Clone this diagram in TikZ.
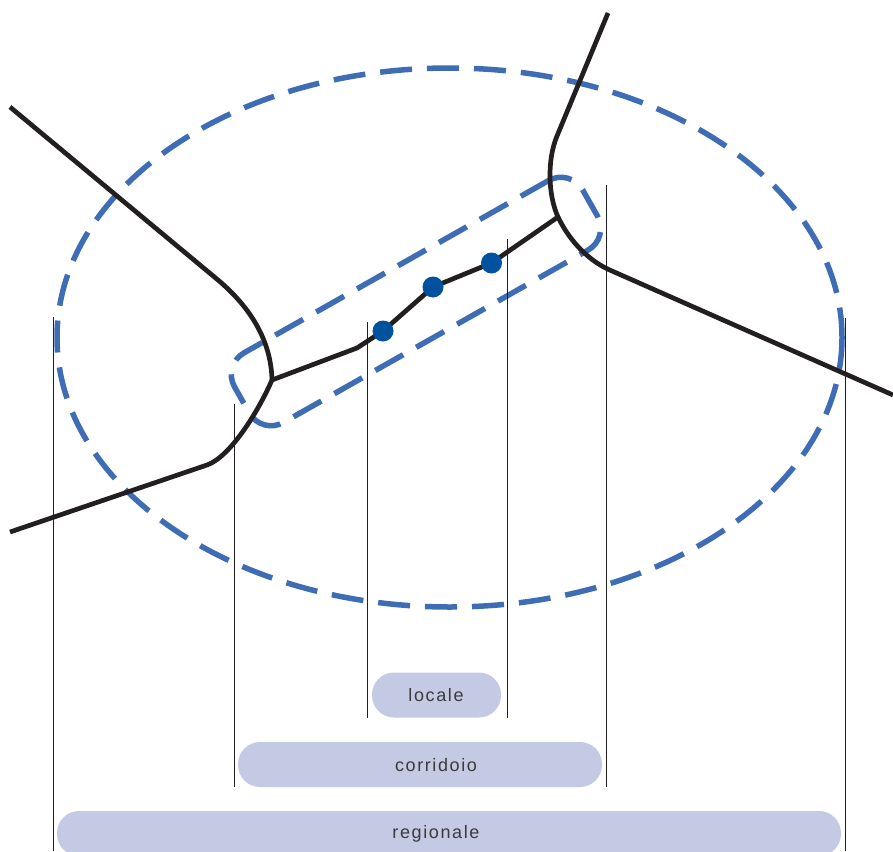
\documentclass[tikz,border=0pt]{standalone}
\usepackage{fontspec}
\setsansfont{Liberation Sans}
\newfontfamily\labelfont[LetterSpace=9]{Liberation Sans}
\usetikzlibrary{positioning}

\definecolor{roadblack}{HTML}{231F20}
\definecolor{zoneblue}{HTML}{3F6DB5}
\definecolor{stopblue}{HTML}{00519E}
\definecolor{pillfill}{HTML}{C5CAE4}
\definecolor{labelgray}{HTML}{3A3A3C}

\tikzset{
  road/.style={line width=4.7pt, draw=roadblack, line join=round},
  zone/.style={line width=5.5pt, draw=zoneblue, dash pattern=on 32pt off 15pt},
  stop/.style={circle, fill=stopblue, inner sep=0pt, minimum size=21pt},
  extent/.style={line width=0.9pt, draw=roadblack},
  pill/.style={rectangle, rounded corners=22pt, fill=pillfill, minimum height=45pt, inner sep=0pt},
  pilltext/.style={inner sep=0pt, font=\labelfont\fontsize{18}{20}\selectfont, text=labelgray}
}

\def\wTot{893}
\def\hTot{851}
\def\xText{436}

\begin{document}
\begin{tikzpicture}[x=1pt, y=-1pt]
      \useasboundingbox (0,0) rectangle (\wTot,\hTot);
      % zones
      \draw[zone] (449.5,337.5) ellipse [x radius=392.5, y radius=269.5];
      \node[zone, rectangle, rounded corners=25pt, minimum width=400pt, minimum height=80pt,
        inner sep=0pt, rotate=29.5] (corridor) at (416,301.5) {};
      % extents
      \draw[extent] (53,317) -- (53,\hTot);
      \draw[extent] (234.5,404) -- (234.5,787);
      \draw[extent] (367,322) -- (367,718);
      \draw[extent] (507,239) -- (507,718);
      \draw[extent] (606.5,185) -- (606.5,787);
      \draw[extent] (845,318) -- (845,\hTot);
      % roads
      \coordinate (jwest) at (272,380);
      \coordinate (jeast) at (558,217);
      \coordinate (bend) at (357,348);
      \coordinate (posA) at (383,331);
      \coordinate (posB) at (433,287);
      \coordinate (posC) at (491.5,263);
      \draw[road] (10,107) -- (218,280) .. controls (250,307) and (271,340) .. (jwest);
      \draw[road] (jwest) .. controls (258,412) and (230,457) .. (207,465) -- (10,532);
      \draw[road] (608,13) -- (557,136) .. controls (547,160) and (548,195) .. (jeast)
        .. controls (570,242) and (590,262) .. (612,271) -- (\wTot,395);
      \draw[road] (jwest) -- (bend) -- (posA) -- (posB) -- (posC) -- (jeast);
      \node[stop] (stopA) at (posA) {};
      \node[stop] (stopB) at (posB) {};
      \node[stop] (stopC) at (posC) {};
      % scales
      \node[pill, minimum width=129pt] (locale) at (436.5,695) {};
      \node[pill, minimum width=364pt] (corridoio) at (420,764.5) {};
      \node[pill, minimum width=784pt] (regionale) at (449,833.5) {};
      \node[pilltext] (localeText) at (\xText,695.5) {locale};
      \node[pilltext] (corridoioText) at (\xText,765) {corridoio};
      \node[pilltext] (regionaleText) at (\xText,834) {regionale};
    \end{tikzpicture}
\end{document}
